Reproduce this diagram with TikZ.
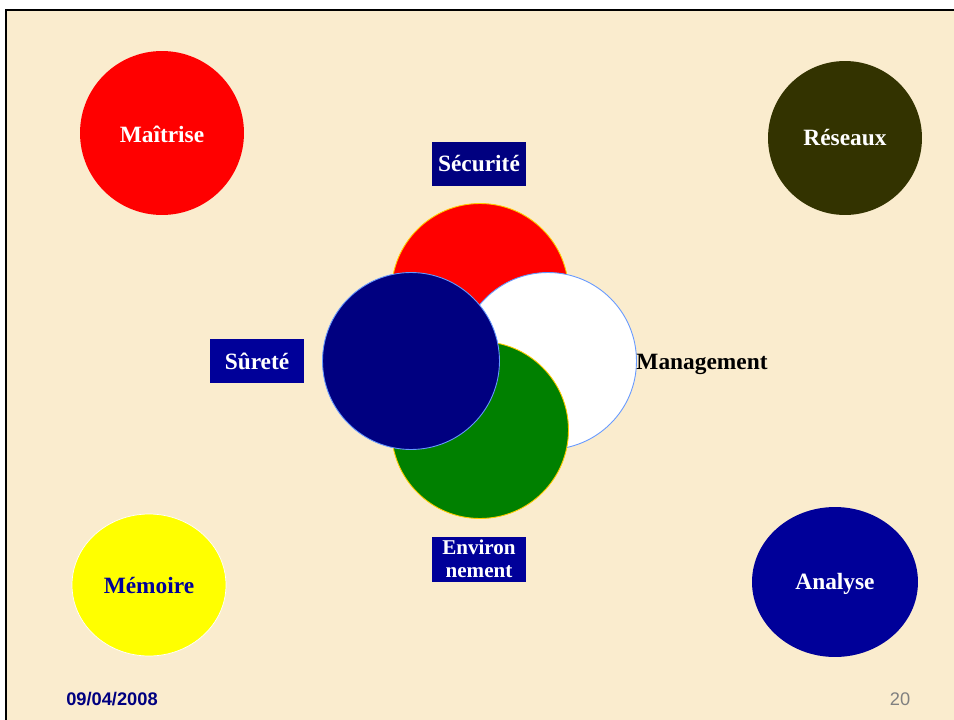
\documentclass[tikz,border=0pt]{standalone}
\usepackage{fontspec}
\setmainfont{Liberation Serif}
\newfontfamily\footfont{Liberation Sans}
\usepackage{tikz}
\usetikzlibrary{shapes.geometric}
\definecolor{paper}{RGB}{250,236,206}
\definecolor{slidenavy}{RGB}{0,0,128}
\definecolor{slideblue}{RGB}{0,0,153}
\definecolor{bark}{RGB}{51,51,0}
\definecolor{lemon}{RGB}{255,255,0}
\definecolor{rimyellow}{RGB}{255,204,0}
\definecolor{rimblue}{RGB}{102,153,255}
\pgfdeclarelayer{framelayer}
\pgfsetlayers{framelayer,main}
\tikzstyle{disc}=[circle,inner sep=0pt,font=\bfseries\fontsize{13.3}{16}\selectfont]
\tikzstyle{oval}=[ellipse,inner sep=0pt,font=\bfseries\fontsize{13.3}{16}\selectfont]
\tikzstyle{petal}=[circle,inner sep=0pt,minimum size=3.54cm,line width=0.5pt]
\tikzstyle{labelbox}=[rectangle,fill=slideblue,text=white,inner sep=0pt,minimum width=1.88cm,minimum height=0.88cm,font=\bfseries\fontsize{13.3}{16}\selectfont]
\tikzstyle{word}=[inner sep=0pt,font=\bfseries\fontsize{13.3}{16}\selectfont]
\tikzstyle{footer}=[inner sep=0pt,font=\footfont\bfseries\fontsize{10.4}{12}\selectfont]

\begin{document}
\begin{tikzpicture}[x=0.02cm,y=-0.02cm]
	\useasboundingbox (0,0) rectangle (954,720);
	\begin{pgfonlayer}{framelayer}
		\fill [white] (0,0) rectangle (954,720);
		\fill [paper] (6,10) rectangle (954,720);
		\draw [line width=1.4pt] (6,720) -- (6,10) -- (954,10);
	\end{pgfonlayer}

	% corner discs
	\node [style=disc,fill=red,minimum size=3.28cm] (maitrise) at (162,133) {};
	\node [style=word,text=white] (maitrisetxt) at (162,134) {Maîtrise};
	\node [style=disc,fill=bark,text=white,minimum size=3.08cm] (reseaux) at (845,138) {Réseaux};
	\node [style=oval,fill=lemon,draw=white,line width=0.4pt,text=slideblue,minimum width=3.08cm,minimum height=2.84cm] (memoire) at (149,585) {Mémoire};
	\node [style=oval,fill=slideblue,minimum width=3.32cm,minimum height=3cm] (analyse) at (835,582) {};
	\node [style=word,text=white] (analysetxt) at (835,584) {Analyse};

	% central petals
	\node [style=petal,fill=red,draw=rimyellow] (secu) at (480,292) {};
	\node [style=petal,fill=white,draw=rimblue] (manag) at (548,361) {};
	\node [style=petal,fill=green!50!black,draw=rimyellow] (envir) at (480,430) {};
	\node [style=petal,fill=slidenavy,draw=rimblue] (surete) at (411,361) {};

	% labels
	\node [style=labelbox,fill=slidenavy] (secutag) at (479,164) {Sécurité};
	\node [style=labelbox] (suretetag) at (257,361) {Sûreté};
	\node [style=labelbox,minimum height=0.9cm,align=center,font=\bfseries\fontsize{12}{13}\selectfont] (envirtag) at (479,559) {Environ\\nement};
	\node [style=word] (managtag) at (702,364) {Management};

	% footer
	\node [style=footer,text=slidenavy] (date) at (112,699) {09/04/2008};
	\node [style=footer,font=\footfont\fontsize{10.4}{12}\selectfont,text=gray] (page) at (900,699) {20};
\end{tikzpicture}
\end{document}
